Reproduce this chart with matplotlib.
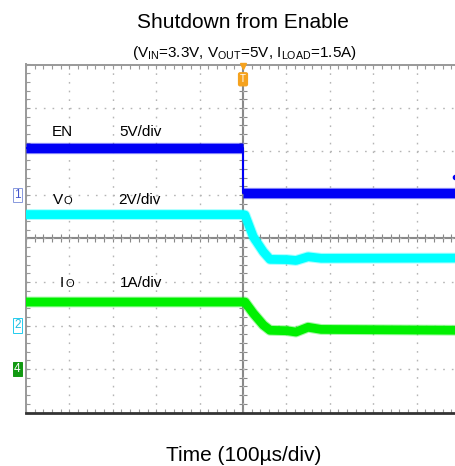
import numpy as np
import matplotlib
matplotlib.use('Agg')
import matplotlib.pyplot as plt
from matplotlib.ticker import MultipleLocator

plt.rcParams['font.family'] = 'Liberation Sans'
plt.rcParams['mathtext.fontset'] = 'custom'
plt.rcParams['mathtext.rm'] = 'Liberation Sans'

# scope settings: volts (or amps) per division and ground offset in divisions
en_scale, en_offset = 5.0, 1.0
vo_scale, vo_offset = 2.0, -2.0
io_scale, io_offset = 1.0, -3.0

# EN trace (V) vs time (us)
en_t = [-500, 0, 0, 500]
en_v = [5.4, 5.4, 0.2, 0.2]

# output voltage (V)
vo_t = [-500, 0, 4.6, 23.7, 46.8, 62.2, 101, 122, 150, 180, 500]
vo_v = [5.1, 5.1, 5.08, 4.08, 3.39, 3.04, 3.03, 2.99, 3.16, 3.09, 3.10]

# output current (A)
io_t = [-500, 0, 4.6, 23.7, 46.8, 62.2, 101, 122, 150, 180, 500]
io_v = [1.54, 1.54, 1.54, 1.28, 1.01, 0.89, 0.88, 0.85, 0.96, 0.91, 0.89]

fig = plt.figure(figsize=(4.55, 4.66), dpi=100)
ax = fig.add_axes([26 / 455, 1 - 412.5 / 466, 434 / 455, 348 / 466])
ax.set_xlim(-500, 500)
ax.set_ylim(-4, 4)

ax.xaxis.set_major_locator(MultipleLocator(100))
ax.xaxis.set_minor_locator(MultipleLocator(20))
ax.yaxis.set_major_locator(MultipleLocator(1))
ax.yaxis.set_minor_locator(MultipleLocator(0.2))
ax.tick_params(which='both', direction='in', length=3, width=0.8, color='#999999',
               top=True, bottom=True, left=True, right=False,
               labelleft=False, labelbottom=False)
ax.grid(which='major', color='#b5b5b5', linestyle=(0, (1.2, 5.05)), lw=1)

for s in ['left', 'top']:
    ax.spines[s].set_color('#999999')
    ax.spines[s].set_linewidth(1.4)
ax.spines['bottom'].set_color('#333333')
ax.spines['bottom'].set_linewidth(2)
ax.spines['right'].set_visible(False)

# centre graticule lines with their small ticks
ax.axhline(0, color='#8a8a8a', lw=1.5, zorder=1)
ax.axvline(0, color='#8a8a8a', lw=1.5, zorder=1)
xt = np.arange(-500, 501, 20)
yt = np.arange(-4, 4.01, 0.2)
ax.plot(xt, np.zeros_like(xt), ls='none', marker='|', ms=6, mew=0.8, color='#888888', zorder=1)
ax.plot(np.zeros_like(yt), yt, ls='none', marker='_', ms=6, mew=0.8, color='#888888', zorder=1)

def div(vals, scale, offset):
    return np.array(vals) / scale + offset

en_y = div(en_v, en_scale, en_offset)
vo_y = div(vo_v, vo_scale, vo_offset)
io_y = div(io_v, io_scale, io_offset)

blue = '#0000f5'
cyan = '#00ffff'
green = '#00f000'

ax.plot(en_t, en_y, color=blue, lw=1.5, zorder=3)
for sl in [slice(0, 2), slice(2, 4)]:
    ax.plot(en_t[sl], en_y[sl], color=blue, lw=8.2, alpha=0.35, solid_capstyle='butt', zorder=3)
    ax.plot(en_t[sl], en_y[sl], color=blue, lw=6.8, solid_capstyle='butt', zorder=3)

ax.plot(vo_t, vo_y, color=cyan, lw=7.8, alpha=0.35, solid_capstyle='butt', zorder=3)
ax.plot(vo_t, vo_y, color=cyan, lw=6.3, solid_capstyle='butt', zorder=3)
ax.plot(io_t, io_y, color=green, lw=7.8, alpha=0.35, solid_capstyle='butt', zorder=3)
ax.plot(io_t, io_y, color=green, lw=6.3, solid_capstyle='butt', zorder=3)

ax.plot([488], [1.42], marker='o', ms=3, color=blue, clip_on=False, zorder=4)

# channel labels
fs = 11
ax.text(-440, 2.36, 'EN', fontsize=fs, va='baseline')
ax.text(-286, 2.36, '5V/div', fontsize=fs, va='baseline')
ax.text(-438, 0.795, 'V', fontsize=fs, va='baseline')
ax.text(-413, 0.795, 'O', fontsize=8, va='baseline')
ax.text(-288, 0.795, '2V/div', fontsize=fs, va='baseline')
ax.text(-422, -1.124, 'I', fontsize=fs, va='baseline')
ax.text(-410, -1.124, 'O', fontsize=8, va='baseline')
ax.text(-283, -1.124, '1A/div', fontsize=fs, va='baseline')

# channel ground markers on the left
ax.text(-520, en_offset, '1', fontsize=8.5, color='#4455cc', ha='center', va='center', clip_on=False,
        bbox=dict(boxstyle='square,pad=0.1', fc='white', ec='#8899dd', lw=0.7))
ax.text(-520, vo_offset, '2', fontsize=8.5, color='#22bbdd', ha='center', va='center', clip_on=False,
        bbox=dict(boxstyle='square,pad=0.1', fc='white', ec='#22ccee', lw=0.7))
ax.text(-520, io_offset, '4', fontsize=8.5, color='white', ha='center', va='center', clip_on=False,
        bbox=dict(boxstyle='square,pad=0.12', fc='#119911', ec='#119911', lw=0.7))

# trigger marker
orange = '#f5a21e'
ax.plot([0], [3.97], marker='v', ms=5, color=orange, clip_on=False, zorder=5)
ax.text(0, 3.66, 'T', fontsize=7, color='white', ha='center', va='center', zorder=5,
        bbox=dict(boxstyle='round,pad=0.15', fc=orange, ec=orange))

fig.text(243 / 455, 1 - 28.3 / 466, 'Shutdown from Enable', fontsize=15, ha='center', va='baseline')
fig.text(244 / 455, 1 - 57 / 466,
         r'(V$_{\mathregular{IN}}$=3.3V, V$_{\mathregular{OUT}}$=5V, I$_{\mathregular{LOAD}}$=1.5A)',
         fontsize=11, ha='center', va='baseline')
fig.text(244 / 455, 1 - 461 / 466, 'Time (100\u00b5s/div)', fontsize=15, ha='center', va='baseline')

fig.savefig('out.png', dpi=100)
